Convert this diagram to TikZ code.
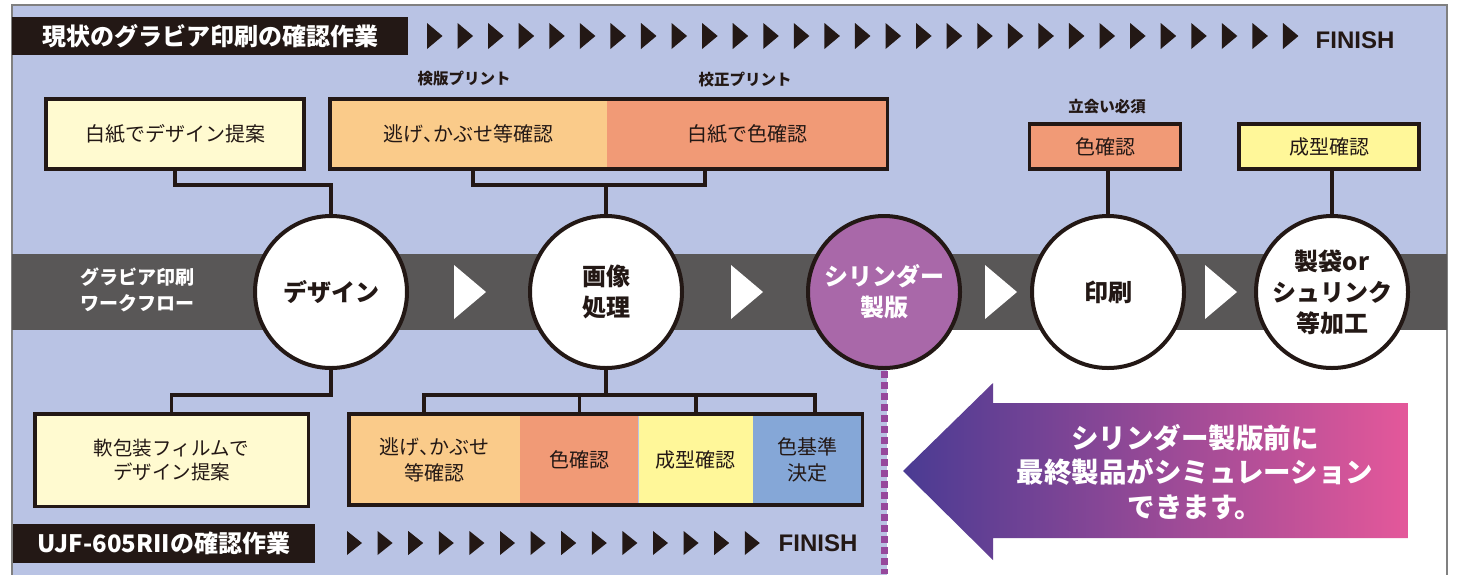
\documentclass[tikz,border=0pt]{standalone}
\usepackage{fontspec}
\setmainfont{Noto Sans CJK JP}
\newfontfamily\latinfont{Liberation Sans}
\newfontfamily\halffont{Noto Sans CJK JP}[RawFeature=+halt]
\newcommand{\tightcomma}{{\halffont 、}}

\definecolor{ink}{RGB}{35,24,21}
\definecolor{panel}{RGB}{185,195,228}
\definecolor{band}{RGB}{89,87,87}
\definecolor{cream}{RGB}{255,250,208}
\definecolor{peach}{RGB}{250,203,138}
\definecolor{salmon}{RGB}{241,154,118}
\definecolor{lemon}{RGB}{255,247,153}
\definecolor{skyblue}{RGB}{133,167,215}
\definecolor{plum}{RGB}{169,104,169}
\definecolor{dotplum}{RGB}{150,72,156}
\definecolor{arrowleft}{RGB}{74,59,147}
\definecolor{arrowright}{RGB}{228,88,154}

\begin{document}
\begin{tikzpicture}[x=1pt, y=-1pt,
        every node/.style={inner sep=0pt, text=ink},
        stepbox/.style={draw=ink, line width=3.5pt, minimum height=70pt, align=center, font=\fontsize{20}{25}\selectfont},
        seg/.style={minimum height=91pt, align=center, font=\fontsize{20}{26}\selectfont},
        stage/.style={circle, draw=ink, line width=4pt, fill=white, minimum size=152pt, align=center, font=\fontsize{24}{31}\selectfont\bfseries},
        link/.style={draw=ink, line width=3.5pt},
        note/.style={font=\fontsize{15.5}{18}\selectfont\bfseries},
        finish/.style={font=\latinfont\fontsize{24}{24}\selectfont\bfseries},
        headbar/.style={fill=ink, text=white, font=\fontsize{24}{24}\selectfont\bfseries}]
        \useasboundingbox (0,0) rectangle (1461,574);
        % panel, white corner and workflow band
        \fill[panel] (12,5) rectangle (1447,580);
        \fill[white] (887,330) rectangle (1447,580);
        \draw[gray, line width=1.5pt] (12,580) -- (12,5) -- (1447,5) -- (1447,580);
        \fill[band] (12,254) rectangle (1447,330);
        % header rows
        \node[headbar, minimum width=396pt, minimum height=38pt] (nowbar) at (210,36) {現状のグラビア印刷の確認作業};
        \foreach \i in {0,...,28} {
            \fill[ink] ({427+30.57*\i},23) -- ++(15.5,13) -- ++(-15.5,13) -- cycle;
        }
        \node[finish] (nowfin) at (1355,40) {FINISH};
        \node[headbar, minimum width=302pt, minimum height=39pt] (ujfbar) at (164,543.5) {UJF-605RIIの確認作業};
        \foreach \i in {0,...,13} {
            \fill[ink] ({347+30.6*\i},531) -- ++(15,12) -- ++(-15,12) -- cycle;
        }
        \node[finish] (ujffin) at (818,543) {FINISH};
        % workflow
        \node[text=white, align=center, font=\fontsize{19}{26}\selectfont\bfseries] (flowlbl) at (137,290) {グラビア印刷\\ワークフロー};
        \foreach \x in {470,747,1001,1221} {
            \fill[white] ({\x-16},265) -- ({\x+16},292) -- ({\x-16},319) -- cycle;
        }
        \coordinate (dotend) at (884,574);
        \draw[dotplum, line width=7pt, dash pattern=on 7pt off 4pt] (884,371) -- (dotend);
        \node[stage] (design) at (331,292) {デザイン};
        \node[stage] (imaging) at (606,292) {画像\\処理};
        \node[stage, fill=plum, text=white] (cylinder) at (884,292) {シリンダー\\製版};
        \node[stage] (printing) at (1108,292) {印刷};
        \node[stage] (finishing) at (1332,292) {製袋or\\シュリンク\\等加工};
        % current checks
        \node[stepbox, fill=cream, minimum width=258pt] (paper) at (175,134) {白紙でデザイン提案};
        \node[seg, fill=peach, minimum width=277pt, minimum height=70pt] (trapchk) at (468.5,134) {逃げ\tightcomma かぶせ等確認};
        \node[seg, fill=salmon, minimum width=280pt, minimum height=70pt, anchor=west] (papercol) at (trapchk.east) {白紙で色確認};
        \draw[ink, line width=3.5pt] (trapchk.north west) rectangle (papercol.south east);
        \node[note] (kenpan) at (464,79) {検版プリント};
        \node[note] (kousei) at (745,80) {校正プリント};
        \node[note] (witness) at (1107,107) {立会い必須};
        \node[stepbox, fill=salmon, minimum width=151pt, minimum height=45pt] (colchk) at (1105,146.5) {色確認};
        \node[stepbox, fill=lemon, minimum width=180pt, minimum height=45pt] (formchk) at (1329,146.5) {成型確認};
        \coordinate (tl) at (473,185);
        \coordinate (tr) at (705,185);
        \draw[link] (paper.south) -- ++(0,14) -| (design.north);
        \draw[link] (trapchk.south -| tl) -- (tl) -- (tr) -- (papercol.south -| tr);
        \draw[link] (imaging.north) -- (imaging.north |- tl);
        \draw[link] (printing.north) -- (printing.north |- colchk.south);
        \draw[link] (finishing.north) -- (finishing.north |- formchk.south);
        % UJF checks
        \node[stepbox, fill=cream, minimum width=273.5pt, minimum height=92.5pt, font=\fontsize{19.5}{24}\selectfont] (filmdesign) at (171.5,460) {軟包装フィルムで\\デザイン提案};
        \node[seg, fill=peach, minimum width=171pt] (trapchk2) at (434.5,459.5) {逃げ\tightcomma かぶせ\\等確認};
        \node[seg, fill=salmon, minimum width=118pt, anchor=west] (colchk2) at (trapchk2.east) {色確認};
        \node[seg, fill=lemon, minimum width=114pt, anchor=west] (formchk2) at (colchk2.east) {成型確認};
        \node[seg, fill=skyblue, minimum width=109pt, anchor=west] (stdset) at (formchk2.east) {色基準\\決定};
        \draw[ink, line width=3.5pt] (trapchk2.north west) rectangle (stdset.south east);
        \coordinate (bl) at (424,395);
        \coordinate (br) at (815,395);
        \draw[link] (design.south) -- ++(0,25) -| (filmdesign.north);
        \draw[link] (imaging.south) -- (imaging.south |- bl);
        \draw[link] (trapchk2.north -| bl) -- (bl) -- (br) -- (stdset.north -| br);
        \draw[link] (colchk2.north) -- (colchk2.north |- bl);
        \draw[link] (formchk2.north) -- (formchk2.north |- bl);
        % simulation arrow
        \shade[left color=arrowleft, right color=arrowright] (903,471) -- (993,383) -- (993,403) -- (1408,403) -- (1408,538) -- (993,538) -- (993,560) -- cycle;
        \node[text=white, align=center, font=\fontsize{27.5}{34.5}\selectfont\bfseries] (simnote) at (1195,472) {シリンダー製版前に\\最終製品がシミュレーション\\できます。};
    \end{tikzpicture}
\end{document}
